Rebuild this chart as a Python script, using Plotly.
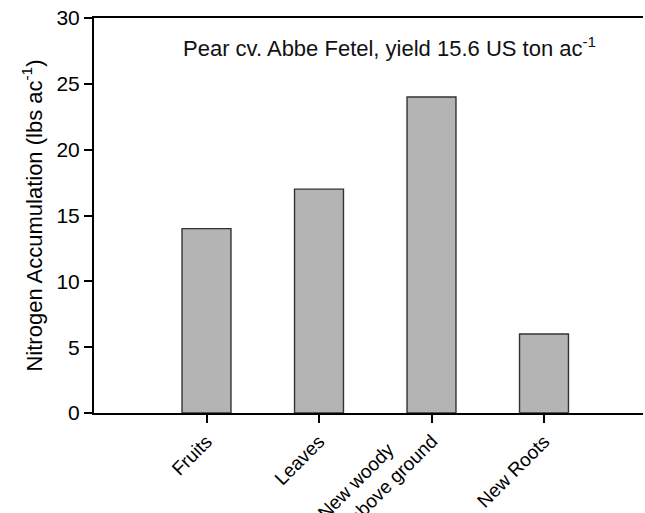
import plotly.graph_objects as go

categories = ["Fruits", "Leaves", "New woody<br>above ground", "New Roots"]
values = [14, 17, 24, 6]
y_ticks = [0, 5, 10, 15, 20, 25, 30]

# the two-line label is drawn by an overlaid axis so its last line sits at the tick
multi = [i for i, c in enumerate(categories) if "<br>" in c]
single = [i for i, c in enumerate(categories) if "<br>" not in c]
pad = "&nbsp;" * 7
multi_text = [categories[i].replace("<br>", pad + "<br>") for i in multi]

fig = go.Figure()
fig.add_trace(go.Bar(
    x=list(range(len(categories))), y=values, width=0.435,
    marker=dict(color="#b4b4b4", line=dict(color="#333333", width=1.4)),
))
fig.add_trace(go.Scatter(x=[], y=[], xaxis="x2", showlegend=False))

fig.update_layout(
    width=645, height=513,
    margin=dict(l=94, r=2, t=18, b=100),
    paper_bgcolor="white", plot_bgcolor="white",
    font=dict(family="Liberation Sans, Arial, sans-serif", color="black"),
    showlegend=False,
    annotations=[dict(
        text="Pear cv. Abbe Fetel, yield 15.6 US ton ac<sup>-1</sup>",
        xref="paper", yref="paper", x=0.538, y=0.927,
        xanchor="center", yanchor="middle", showarrow=False,
        font=dict(size=22, color="#111111"),
    )],
    xaxis=dict(
        range=[-1, 3.88], automargin=False,
        tickvals=list(range(len(categories))),
        ticktext=[c if i in single else "" for i, c in enumerate(categories)],
        showline=True, linecolor="black", linewidth=2, mirror=True,
        ticks="outside", ticklen=8, tickwidth=2, tickcolor="black",
        tickangle=-45, tickfont=dict(size=19),
        showgrid=False, zeroline=False,
    ),
    xaxis2=dict(
        range=[-1, 3.88], automargin=False, overlaying="x", anchor="y", side="bottom",
        tickvals=multi, ticktext=multi_text,
        ticklabelstandoff=-17, ticklabelshift=-17,
        showline=False, ticks="outside", ticklen=8, tickcolor="rgba(0,0,0,0)",
        tickangle=-45, tickfont=dict(size=19),
        showgrid=False, zeroline=False,
    ),
)
fig.update_yaxes(
    range=[0, 30], tickvals=y_ticks, automargin=False,
    showline=True, linecolor="black", linewidth=2,
    ticks="outside", ticklen=8, tickwidth=2, tickcolor="black",
    tickfont=dict(size=21),
    title=dict(text="Nitrogen Accumulation (lbs ac<sup>-1</sup>)", font=dict(size=22), standoff=8),
    showgrid=False, zeroline=False,
)

fig.write_html("out.html", config={"displayModeBar": False},
               post_script="document.body.style.margin='0';")
